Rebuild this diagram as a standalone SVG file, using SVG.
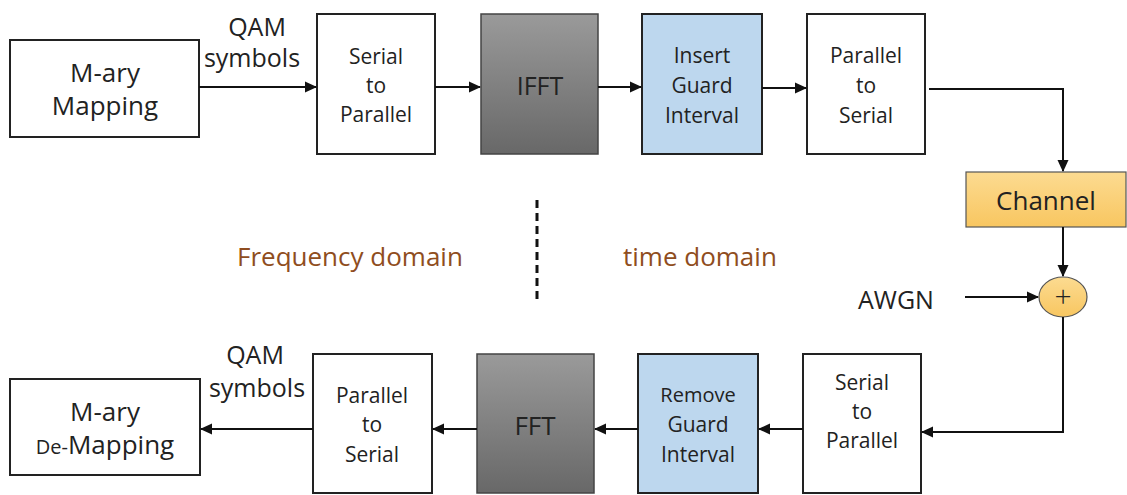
<svg xmlns="http://www.w3.org/2000/svg" width="1127" height="495" viewBox="0 0 1127 495">
<defs>
<linearGradient id="gray" x1="0" y1="0" x2="0" y2="1"><stop offset="0" stop-color="#9a9a9a"/><stop offset="1" stop-color="#686868"/></linearGradient>
<linearGradient id="orange" x1="0" y1="0" x2="0" y2="1"><stop offset="0" stop-color="#fcdb91"/><stop offset="1" stop-color="#f8c660"/></linearGradient>
<marker id="ah" markerWidth="12" markerHeight="12" refX="11" refY="6" orient="auto" markerUnits="userSpaceOnUse"><path d="M0,0.5 L12,6 L0,11.5 Z" fill="#111"/></marker>
</defs>
<style>
.box{fill:#fff;stroke:#222;stroke-width:2}
.dark{fill:url(#gray);stroke:#444;stroke-width:1.5}
.blue{fill:#bdd7ee;stroke:#222;stroke-width:2}
.orn{fill:url(#orange);stroke:#555;stroke-width:1.2}
.t{font-family:"Open Sans",Lato,sans-serif;fill:#222;text-anchor:middle}
.s19{font-size:21px}
.s22{font-size:25px}
.s24{font-size:26px}
.brown{font-family:"Open Sans",Lato,sans-serif;font-size:26px;fill:#8f4d20}
.c{fill:none;stroke:#111;stroke-width:2;marker-end:url(#ah)}
</style>
<rect x="0" y="0" width="1127" height="495" fill="#fff"/>

<g id="mapping"><rect class="box" x="10" y="40" width="189" height="97"/>
<text class="t s24" x="105" y="82">M-ary</text><text class="t s24" x="105" y="115">Mapping</text></g>
<g id="s2p-top"><rect class="box" x="317" y="14" width="118" height="140"/>
<text class="t s19" x="376" y="64">Serial</text><text class="t s19" x="376" y="93">to</text><text class="t s19" x="376" y="122">Parallel</text></g>
<g id="ifft"><rect class="dark" x="481" y="14" width="117" height="140"/>
<text class="t" style="font-size:25px" x="540" y="95">IFFT</text></g>
<g id="insert-gi"><rect class="blue" x="642" y="14" width="120" height="140"/>
<text class="t s19" x="702" y="63">Insert</text><text class="t s19" x="702" y="93">Guard</text><text class="t s19" x="702" y="123">Interval</text></g>
<g id="p2s-top"><rect class="box" x="807" y="14" width="118" height="140"/>
<text class="t s19" x="866" y="63">Parallel</text><text class="t s19" x="866" y="93">to</text><text class="t s19" x="866" y="123">Serial</text></g>
<g id="channel"><rect class="orn" x="966" y="172" width="160" height="55"/>
<text class="t s24" x="1046" y="210">Channel</text></g>
<g id="adder"><ellipse class="orn" cx="1063" cy="297" rx="24" ry="20"/>
<text class="t" style="font-size:30px;font-weight:300" x="1063" y="307">+</text></g>
<g id="awgn"><text class="t s22" x="896" y="309">AWGN</text></g>

<g id="demapping"><rect class="box" x="10" y="379" width="190" height="96"/>
<text class="t s24" x="105" y="421">M-ary</text>
<text class="t" x="105" y="454"><tspan style="font-size:20px">De-</tspan><tspan style="font-size:26px">Mapping</tspan></text></g>
<g id="p2s-bot"><rect class="box" x="313" y="354" width="119" height="139"/>
<text class="t s19" x="372" y="403">Parallel</text><text class="t s19" x="372" y="432">to</text><text class="t s19" x="372" y="462">Serial</text></g>
<g id="fft"><rect class="dark" x="477" y="354" width="117" height="139"/>
<text class="t s24" x="535" y="435">FFT</text></g>
<g id="remove-gi"><rect class="blue" x="638" y="354" width="120" height="139"/>
<text class="t" style="font-size:20px" x="698" y="402">Remove</text><text class="t s19" x="698" y="432">Guard</text><text class="t s19" x="698" y="462">Interval</text></g>
<g id="s2p-bot"><rect class="box" x="803" y="354" width="118" height="139"/>
<text class="t s19" x="862" y="390">Serial</text><text class="t s19" x="862" y="419">to</text><text class="t s19" x="862" y="448">Parallel</text></g>

<g id="labels">
<text class="t s22" x="257" y="36">QAM</text><text class="t s22" x="252" y="67">symbols</text>
<text class="t s22" x="255" y="364">QAM</text><text class="t s22" x="257" y="397">symbols</text>
<text class="brown" x="237" y="266">Frequency domain</text>
<text class="brown" x="623" y="266">time domain</text>
<line x1="537" y1="200" x2="537" y2="303" stroke="#111" stroke-width="3" stroke-dasharray="8,5"/>
</g>

<g id="connectors">
<path class="c" d="M199,87 H316"/>
<path class="c" d="M435,87 H480"/>
<path class="c" d="M598,87 H641"/>
<path class="c" d="M762,88 H806"/>
<path class="c" d="M929,89 H1063 V171"/>
<path class="c" d="M1063,227 V276"/>
<path class="c" d="M965,297 H1038"/>
<path class="c" d="M1063,317 V432 H922"/>
<path class="c" d="M803,429 H759"/>
<path class="c" d="M638,429 H595"/>
<path class="c" d="M477,429 H433"/>
<path class="c" d="M313,429 H201"/>
</g>
</svg>
